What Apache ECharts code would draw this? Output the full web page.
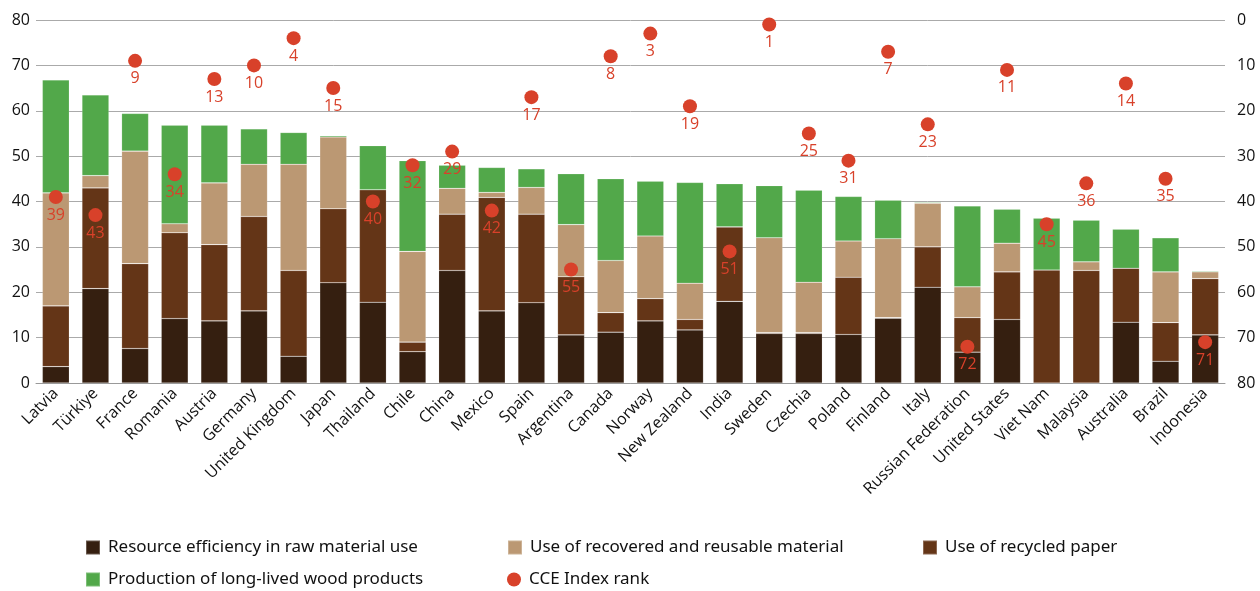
<!DOCTYPE html>
<html><head><meta charset="utf-8">
<script src="https://cdn.jsdelivr.net/npm/echarts@6/dist/echarts.min.js"></script>
<style>html,body{margin:0;padding:0;background:#fff}#c{width:1260px;height:591px}</style>
</head><body><div id="c"></div>
<script>
const countries = ["Latvia","Türkiye","France","Romania","Austria","Germany","United Kingdom","Japan","Thailand","Chile","China","Mexico","Spain","Argentina","Canada","Norway","New Zealand","India","Sweden","Czechia","Poland","Finland","Italy","Russian Federation","United States","Viet Nam","Malaysia","Australia","Brazil","Indonesia"];
const resourceEfficiency = [3.6,20.8,7.6,14.2,13.7,15.9,5.9,22.1,17.8,6.9,24.8,15.9,17.7,10.6,11.2,13.7,11.7,18.0,10.9,10.9,10.7,14.3,21.1,6.8,14.0,0,0,13.4,4.8,10.6];
const recycledPaper = [13.4,22.2,18.7,18.9,16.8,20.8,18.9,16.3,24.8,2.1,12.4,25.0,19.5,12.8,4.3,4.9,2.3,16.4,0.2,0.2,12.6,0.1,8.9,7.6,10.5,24.9,24.8,11.9,8.5,12.4];
const recoveredMaterial = [24.9,2.7,24.8,2.0,13.6,11.5,23.4,15.8,0,20.0,5.7,1.1,5.9,11.5,11.5,13.8,8.0,0,20.9,11.1,8.0,17.4,9.6,6.8,6.3,0,1.9,0,11.2,1.5];
const longLivedWood = [24.9,17.8,8.3,21.7,12.7,7.8,7.0,0.3,9.7,20.0,5.1,5.5,4.1,11.2,18.0,12.1,22.2,9.5,11.5,20.3,9.8,8.5,0.2,17.8,7.5,11.4,9.2,8.6,7.5,0.2];
const cceRank = [39,43,9,34,13,10,4,15,40,32,29,42,17,55,8,3,19,51,1,25,31,7,23,72,11,45,36,14,35,71];
const leftTicks = [0,10,20,30,40,50,60,70,80];

const FONT = '"Open Sans", "Noto Sans", sans-serif';
const LEGFONT = '"Noto Sans", "Open Sans", sans-serif';
const C_DARK = '#351f10', C_MED = '#643517', C_TAN = '#bb9873', C_GREEN = '#52a84a', C_RED = '#d8412a';

const chart = echarts.init(document.getElementById('c'), null, {renderer:'canvas'});
function barSeries(name, data, color){
  return {name, type:'bar', stack:'total', data, barCategoryGap:'32%',
    itemStyle:{color, borderColor:'rgba(255,255,255,0.25)', borderWidth:0.6}, emphasis:{disabled:true}};
}
function leg(name, left, top, icon){
  return {data:[name], left, top, padding:0, icon: icon||'rect', itemWidth:14, itemHeight:14, itemGap:0,
    textStyle:{fontFamily:LEGFONT, fontSize:17, color:'#111', padding:[0,0,0,3]}, selectedMode:false};
}
chart.setOption({
  animation:false,
  grid:{left:36, right:35, top:20, bottom:208, containLabel:false},
  legend:[
    leg('Resource efficiency in raw material use', 85, 539),
    leg('Use of recovered and reusable material', 507, 539),
    leg('Use of recycled paper', 922, 539),
    leg('Production of long-lived wood products', 85, 571),
    leg('CCE Index rank', 507, 571, 'circle')
  ],
  xAxis:{type:'category', data:countries,
    axisLine:{show:true, lineStyle:{color:'#999', width:1}}, axisTick:{show:false},
    axisLabel:{rotate:45, interval:0, fontFamily:FONT, fontSize:16, color:'#111', margin:8}},
  yAxis:[
    {type:'value', min:0, max:80, interval:10, position:'left',
      axisLine:{show:false}, axisTick:{show:false},
      splitLine:{lineStyle:{color:'#aaa', width:1}},
      axisLabel:{fontFamily:FONT, fontSize:16, color:'#111', margin:6,
        formatter:v=>leftTicks.includes(v)?String(v):''}},
    {type:'value', min:0, max:80, interval:10, position:'right', inverse:true,
      axisLine:{show:false}, axisTick:{show:false}, splitLine:{show:false},
      axisLabel:{fontFamily:FONT, fontSize:16, color:'#111', margin:12, align:'left'}}
  ],
  series:[
    barSeries('Resource efficiency in raw material use', resourceEfficiency, C_DARK),
    barSeries('Use of recycled paper', recycledPaper, C_MED),
    barSeries('Use of recovered and reusable material', recoveredMaterial, C_TAN),
    barSeries('Production of long-lived wood products', longLivedWood, C_GREEN),
    {name:'CCE Index rank', type:'scatter', yAxisIndex:1, data:cceRank, symbolSize:14,
      itemStyle:{color:C_RED, opacity:1}, z:10,
      label:{show:true, position:'bottom', distance:3, color:C_RED, fontFamily:FONT, fontSize:16}}
  ]
});
</script></body></html>
